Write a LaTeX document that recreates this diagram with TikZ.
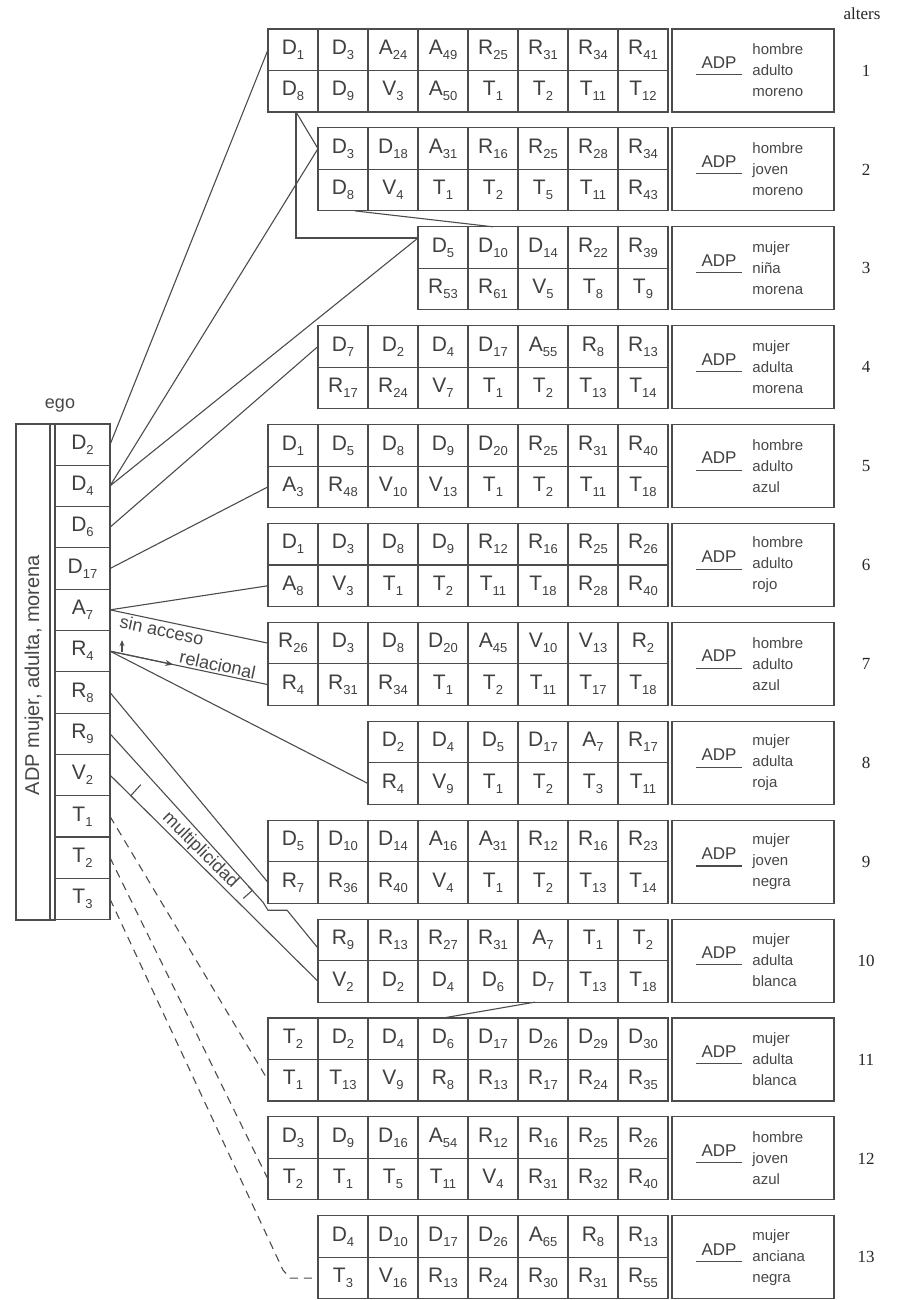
\documentclass[tikz,border=0pt]{standalone}
\usepackage{fontspec}
\setmainfont{Liberation Sans}
\newfontfamily\serifrm{Liberation Serif}
\usetikzlibrary{calc,arrows.meta}
\newcommand\cel[2]{#1\raisebox{-0.45ex}{\fontsize{6.5bp}{7bp}\selectfont #2}}
\newcommand\alterrow[7]{%
  \pgfmathsetmacro\rtop{29+98.9*(#1-1)}%
  \foreach \a/\b [count=\k from #2] in {#3}{\node[cell,anchor=north west] (r#1t\k) at ({268+50*\k},{\rtop}) {\cel\a\b};}%
  \foreach \a/\b [count=\k from #2] in {#4}{\node[cell,anchor=north west] (r#1b\k) at ({268+50*\k},{\rtop+41.5}) {\cel\a\b};}%
  \node[adpbox,anchor=north west] (r#1adp) at (672,{\rtop}) {};%
  \node[adptext] (r#1A) at (719,{\rtop+41.5-8}) {ADP};%
  \draw[ink] ([xshift=-2bp,yshift=-2.5bp]r#1A.south west) -- ([xshift=2bp,yshift=-2.5bp]r#1A.south east);%
  \node[desc,anchor=west] (r#1d) at (752,{\rtop+41.5}) {#5\\#6\\#7};%
  \node[numtext] (r#1n) at (866,{\rtop+41.5}) {#1};%
}
\begin{document}
\begin{tikzpicture}[x=0.5bp,y=-0.5bp,
  ink/.style={draw=black!70, line width=0.55bp},
  cell/.style={ink, minimum width=25bp, minimum height=20.75bp, inner sep=0, outer sep=0, text=black!75, font=\fontsize{10.5bp}{12bp}\selectfont},
  ecell/.style={cell, minimum width=27.5bp, minimum height=20.65bp},
  adpbox/.style={ink, minimum width=81bp, minimum height=41.5bp, inner sep=0, outer sep=0},
  adptext/.style={inner sep=0.5bp, text=black!75, font=\fontsize{8.5bp}{10bp}\selectfont},
  desc/.style={inner sep=0, align=left, text=black!72, font=\fontsize{7.5bp}{10.5bp}\selectfont},
  numtext/.style={inner sep=0, text=black!85, font=\serifrm\fontsize{8.5bp}{10bp}\selectfont},
  conn/.style={ink},
  dconn/.style={ink, dash pattern=on 4bp off 3bp},
  lab/.style={inner sep=1bp, text=black!72, font=\fontsize{9bp}{10bp}\selectfont},
]
\useasboundingbox (0,0) rectangle (908,1300);
\node[numtext] (alters) at (862,14) {alters};

\alterrow{1}{0}{D/1,D/3,A/24,A/49,R/25,R/31,R/34,R/41}{D/8,D/9,V/3,A/50,T/1,T/2,T/11,T/12}{hombre}{adulto}{moreno}
\alterrow{2}{1}{D/3,D/18,A/31,R/16,R/25,R/28,R/34}{D/8,V/4,T/1,T/2,T/5,T/11,R/43}{hombre}{joven}{moreno}
\alterrow{3}{3}{D/5,D/10,D/14,R/22,R/39}{R/53,R/61,V/5,T/8,T/9}{mujer}{niña}{morena}
\alterrow{4}{1}{D/7,D/2,D/4,D/17,A/55,R/8,R/13}{R/17,R/24,V/7,T/1,T/2,T/13,T/14}{mujer}{adulta}{morena}
\alterrow{5}{0}{D/1,D/5,D/8,D/9,D/20,R/25,R/31,R/40}{A/3,R/48,V/10,V/13,T/1,T/2,T/11,T/18}{hombre}{adulto}{azul}
\alterrow{6}{0}{D/1,D/3,D/8,D/9,R/12,R/16,R/25,R/26}{A/8,V/3,T/1,T/2,T/11,T/18,R/28,R/40}{hombre}{adulto}{rojo}
\alterrow{7}{0}{R/26,D/3,D/8,D/20,A/45,V/10,V/13,R/2}{R/4,R/31,R/34,T/1,T/2,T/11,T/17,T/18}{hombre}{adulto}{azul}
\alterrow{8}{2}{D/2,D/4,D/5,D/17,A/7,R/17}{R/4,V/9,T/1,T/2,T/3,T/11}{mujer}{adulta}{roja}
\alterrow{9}{0}{D/5,D/10,D/14,A/16,A/31,R/12,R/16,R/23}{R/7,R/36,R/40,V/4,T/1,T/2,T/13,T/14}{mujer}{joven}{negra}
\alterrow{10}{1}{R/9,R/13,R/27,R/31,A/7,T/1,T/2}{V/2,D/2,D/4,D/6,D/7,T/13,T/18}{mujer}{adulta}{blanca}
\alterrow{11}{0}{T/2,D/2,D/4,D/6,D/17,D/26,D/29,D/30}{T/1,T/13,V/9,R/8,R/13,R/17,R/24,R/35}{mujer}{adulta}{blanca}
\alterrow{12}{0}{D/3,D/9,D/16,A/54,R/12,R/16,R/25,R/26}{T/2,T/1,T/5,T/11,V/4,R/31,R/32,R/40}{hombre}{joven}{azul}
\alterrow{13}{1}{D/4,D/10,D/17,D/26,A/65,R/8,R/13}{T/3,V/16,R/13,R/24,R/30,R/31,R/55}{mujer}{anciana}{negra}

% ego column
\draw[ink] (16,424) rectangle (55,920);
\draw[ink] (50,424) -- (50,920);
\foreach \a/\b [count=\k] in {D/2,D/4,D/6,D/17,A/7,R/4,R/8,R/9,V/2,T/1,T/2,T/3}
  \node[ecell,anchor=north west] (e\k) at (55,{424+41.3*(\k-1)}) {\cel\a\b};
\node[lab] (egolab) at (60,406) {ego};
\node[lab, rotate=90, font=\fontsize{10bp}{12bp}\selectfont] (egodesc) at (34,675) {ADP mujer, adulta, morena};

% connectors
\draw[conn] (e1.east) -- (r1t0.west);
\draw[conn] (e2.east) -- (r2t1.west);
\coordinate (p3) at ($(r3t3.north west)!0.27!(r3t3.south west)$);
\draw[conn] (e2.east) -- (p3);
\draw[conn] (e3.east) -- (r4t1.west);
\draw[conn] (e4.east) -- (r5b0.west);
\draw[conn] (e5.east) -- (r6b0.west);
\draw[conn] (e5.east) -- node[lab, sloped, below, pos=0.34] {sin acceso} (r7t0.west);
\draw[conn] (e6.east) -- node[lab, sloped, above, pos=0.67] {relacional} (r7b0.west);
\draw[conn,-{Stealth[length=4bp,width=3bp]}] (e6.east) -- ($(e6.east)!0.4!(r7b0.west)$);
\draw[conn,-{Stealth[length=3bp,width=2.5bp]}] ($(e6.east)+(12,1)$) -- ($(e6.east)+(12,-11)$);
\draw[conn] (e6.east) -- (r8b2.west);
\draw[conn] (e7.east) -- (r9b0.west);
\coordinate (k1) at ($(r9b0.south west)+(-5,-1)$);
\coordinate (k2) at ($(r9b0.south west)+(0,7)$);
\coordinate (k3) at ($(r9b0.south west)+(19,7)$);
\coordinate (t10) at ($(r10t1.north west)!0.7!(r10t1.south west)$);
\draw[conn] (e8.east) -- (k1) -- (k2) -- (k3) -- (t10);
\draw[conn] (e9.east) -- node[lab, sloped, above, pos=0.40, inner sep=0.5bp, font=\fontsize{9bp}{10bp}\selectfont] {multiplicidad} (r10b1.west);
\coordinate (m1) at ($(e9.east)!0.10!(r10b1.west)$);
\draw[conn] ($(m1)+(10,-11)$) -- (m1) -- ($(m1)+(5,5)$);
\coordinate (m2) at ($(e8.east)!0.93!(k1)$);
\draw[conn] ($(m2)+(-4,-4)$) -- (m2) -- ($(m2)+(-9,8)$);
\draw[dconn] (e10.east) -- (r11b0.west);
\draw[dconn] (e11.east) -- (r12b0.west);
\coordinate (k4) at ($(r13b1.west)+(-35,-8)$);
\coordinate (k5) at ($(r13b1.west)+(-28,0)$);
\draw[dconn] (e12.east) -- (k4) -- (k5) -- (r13b1.west);
% links between alter rows
\coordinate (b1) at ($(r1b0.south west)+(28,0)$);
\draw[conn] (b1) -- (r2t1.west);
\draw[conn] (b1) |- (p3);
\draw[conn] ($(r2b1.south west)+(37,0)$) -- (r3t4.north);
\draw[conn] ($(r10b5.south)+(-8,0)$) -- (r11t3.north);
\end{tikzpicture}
\end{document}
